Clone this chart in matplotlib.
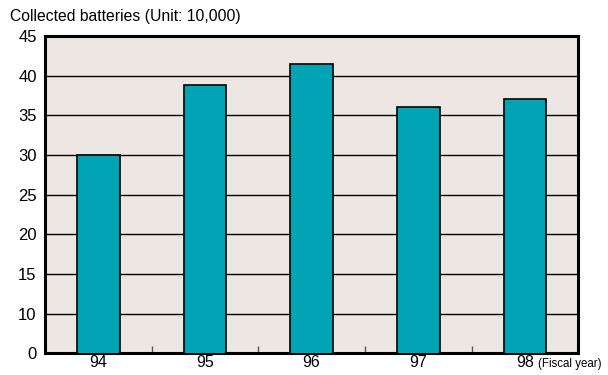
import matplotlib.pyplot as plt

plt.rcParams['font.family'] = ['Liberation Sans', 'DejaVu Sans']

years = ['94', '95', '96', '97', '98']
collected = [30.0, 38.8, 41.5, 36.1, 37.1]
# the chart skips the 5 line: bottom of the axis is labelled 0
ytick_pos = [5, 10, 15, 20, 25, 30, 35, 40, 45]
ytick_lab = ['0', '10', '15', '20', '25', '30', '35', '40', '45']

fig = plt.figure(figsize=(6.08, 3.75), dpi=100)
ax = fig.add_axes([0.074, 0.058, 0.877, 0.846])
ax.set_facecolor('#ece7e3')

x = range(len(years))
ax.bar(x, collected, width=0.4, color='#00a4b4', edgecolor='black', linewidth=1.2, zorder=3)

ax.set_xlim(-0.5, 4.5)
ax.set_ylim(5, 45)
ax.set_yticks(ytick_pos)
ax.set_yticklabels(ytick_lab, fontsize=12)
ax.set_xticks(list(x))
ax.set_xticklabels(years, fontsize=11.5)
ax.set_xticks([0.5, 1.5, 2.5, 3.5], minor=True)
ax.tick_params(axis='x', which='major', length=0, pad=1)
ax.tick_params(axis='x', which='minor', direction='in', length=5, width=1, color='#555555')
ax.tick_params(axis='y', length=0, pad=6)
ax.yaxis.grid(True, color='black', linewidth=1)
ax.set_axisbelow(True)
for s in ax.spines.values():
    s.set_linewidth(2.2)
    s.set_color('black')

fig.text(0.016, 0.955, 'Collected batteries (Unit: 10,000)', fontsize=11.3, va='center')
fig.text(0.885, 0.028, '(Fiscal year)', fontsize=8.3, va='center')

plt.savefig('out.png')
